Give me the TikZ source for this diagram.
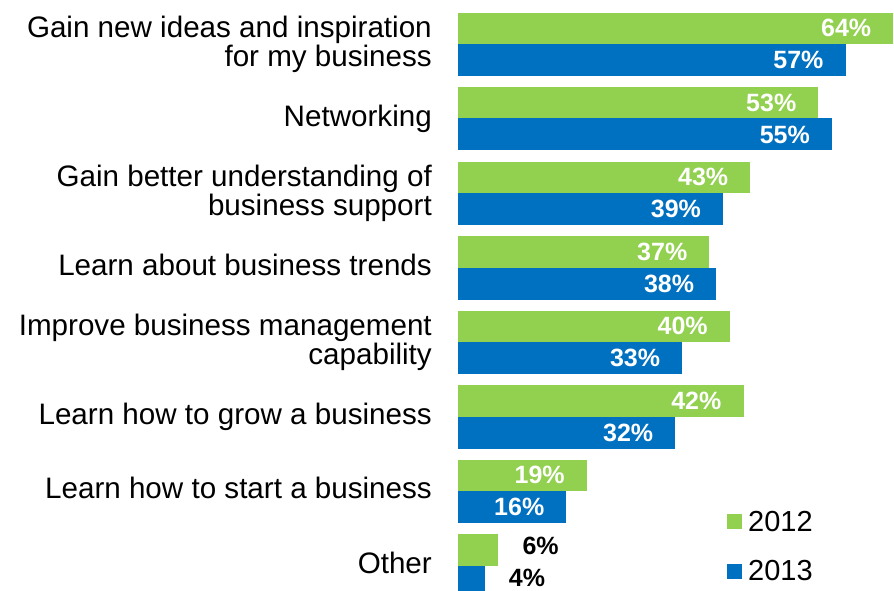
\documentclass[tikz,border=0pt]{standalone}
\usepackage{fontspec}
\setmainfont{Liberation Sans}
\definecolor{bargreen}{RGB}{146,208,80}
\definecolor{barblue}{RGB}{0,112,192}
\tikzset{
  catlabel/.style={anchor=east, align=right, inner sep=0pt, text depth=0pt,
    font=\fontsize{29.6}{27}\selectfont},
  bar/.style={anchor=north west, inner sep=0pt, outer sep=0pt, draw=none},
  pctin/.style={anchor=east, xshift=-22pt, inner sep=0pt, text=white,
    font=\bfseries\fontsize{25}{25}\selectfont},
  pctout/.style={anchor=west, xshift=24pt, yshift=4pt, inner sep=0pt, text=black,
    font=\bfseries\fontsize{25}{25}\selectfont},
  legtext/.style={anchor=base west, inner sep=0pt,
    font=\fontsize{29}{29}\selectfont},
}
\begin{document}
\begin{tikzpicture}[x=1pt,y=-1pt]
\clip (0,0) rectangle (894,591);

% one group per answer: 2012 on top, 2013 below
\foreach \lbl/\g/\b/\ps [count=\i from 0] in {
  {Gain new ideas and inspiration\\for my business}/64/57/pctin,
  {Networking}/53/55/pctin,
  {Gain better understanding of\\business support}/43/39/pctin,
  {Learn about business trends}/37/38/pctin,
  {Improve business management\\capability}/40/33/pctin,
  {Learn how to grow a business}/42/32/pctin,
  {Learn how to start a business}/19/16/pctin,
  {Other}/6/4/pctout}{
  \pgfmathsetmacro{\ytop}{12.7+74.5*\i}
  \pgfmathsetmacro{\gw}{6.81*\g}
  \pgfmathsetmacro{\bw}{6.81*\b}
  \node[catlabel] (cat\i) at (432,\ytop+28.5) {\lbl};
  \node[bar, fill=bargreen, minimum width=\gw pt, minimum height=31.3pt]
    (g\i) at (457.5,\ytop) {};
  \node[bar, fill=barblue, minimum width=\bw pt, minimum height=32pt]
    (b\i) at (457.5,\ytop+31.3) {};
  \node[\ps] (gv\i) at (g\i.east) {\g\%};
  \node[\ps] (bv\i) at (b\i.east) {\b\%};
}

% legend
\node[bar, fill=bargreen, minimum size=15pt] (key12) at (727,514) {};
\node[legtext] (lab12) at (748,531.7) {2012};
\node[bar, fill=barblue, minimum size=15pt] (key13) at (727,564) {};
\node[legtext] (lab13) at (748,580) {2013};
\end{tikzpicture}
\end{document}
